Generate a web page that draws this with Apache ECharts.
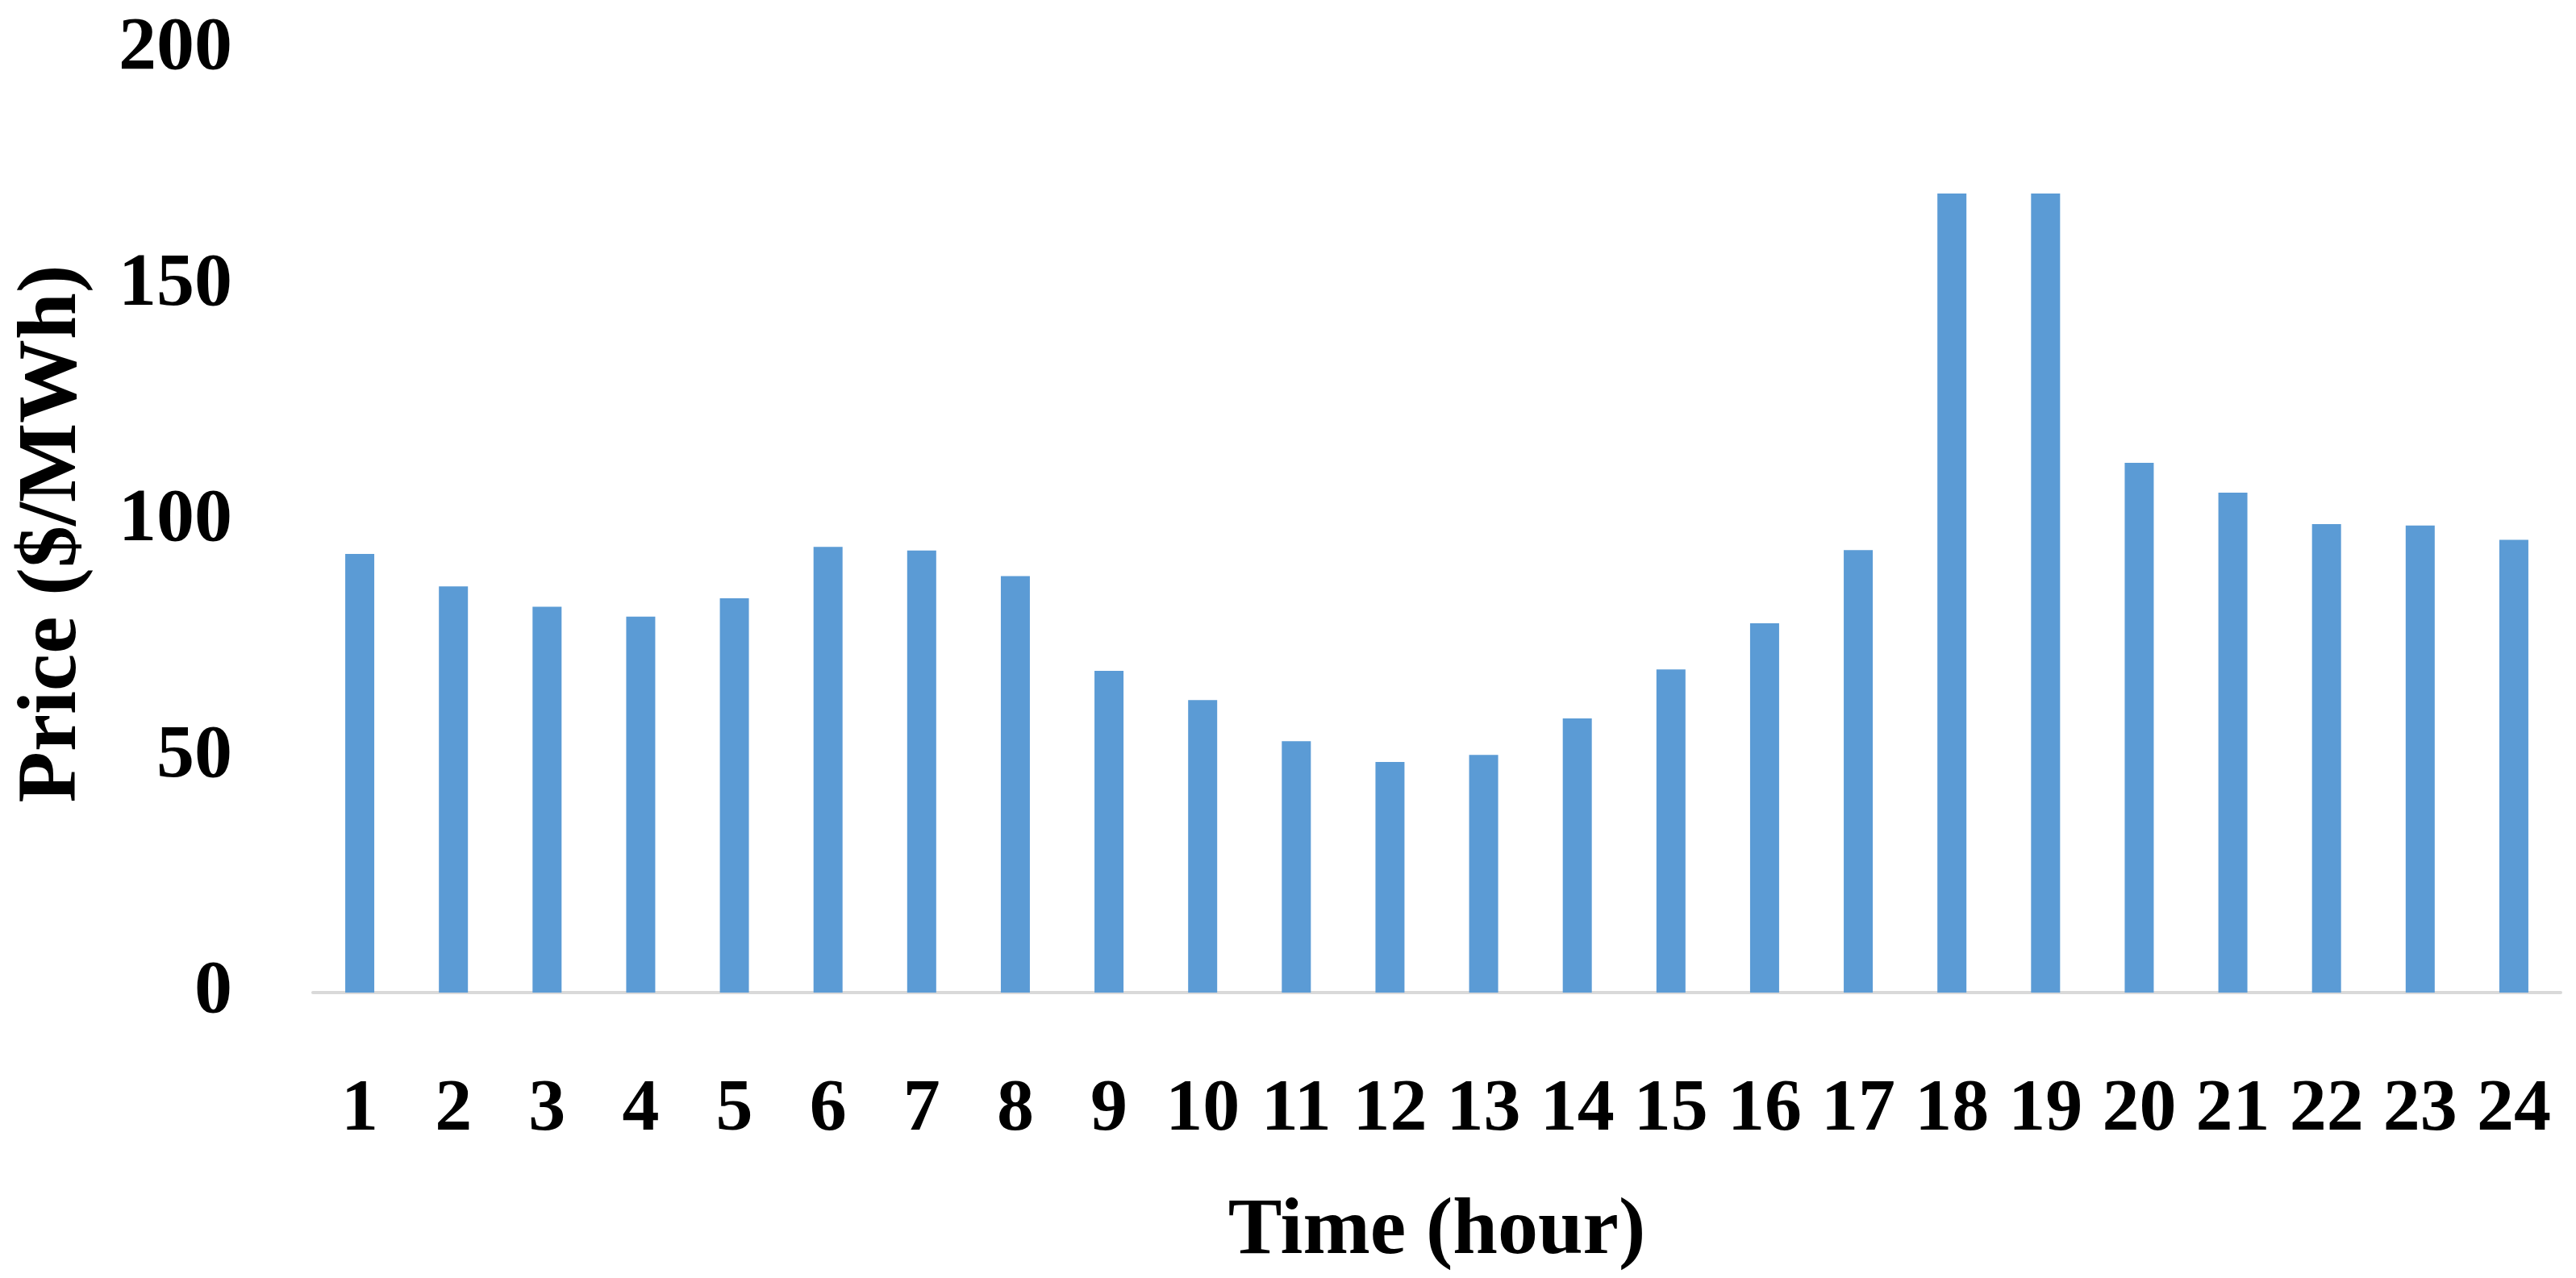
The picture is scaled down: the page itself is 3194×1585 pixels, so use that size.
<!DOCTYPE html>
<html>
<head>
<meta charset="utf-8">
<script src="https://cdn.jsdelivr.net/npm/echarts@6/dist/echarts.min.js"></script>
<style>
  html, body { margin: 0; padding: 0; background: #fff; }
  #chart { width: 3194px; height: 1585px; }
</style>
</head>
<body>
<div id="chart"></div>
<script>
// hours on the x axis
const hours = ['1', '2', '3', '4', '5', '6', '7', '8', '9', '10', '11', '12',
  '13', '14', '15', '16', '17', '18', '19', '20', '21', '22', '23', '24']
// price per hour, $/MWh
const prices = [93.0, 86.1, 81.8, 79.7, 83.6, 94.5, 93.7, 88.3, 68.2, 62.0, 53.3, 48.9,
  50.4, 58.1, 68.5, 78.3, 93.8, 169.4, 169.4, 112.3, 106.0, 99.3, 99.0, 96.0]
const yTicks = [0, 50, 100, 150, 200]

const font = 'Liberation Serif'
const chart = echarts.init(document.getElementById('chart'))

const option = {
  backgroundColor: '#ffffff',
  animation: false,
  grid: {
    left: 388,
    right: 19,
    top: 61,
    bottom: 354,
    containLabel: false,
    outerBoundsMode: 'none'
  },
  xAxis: {
    type: 'category',
    data: hours,
    name: 'Time (hour)',
    nameLocation: 'middle',
    nameGap: 247,
    nameTextStyle: {
      fontFamily: font,
      fontWeight: 'bold',
      fontSize: 100,
      color: '#000'
    },
    axisLine: {
      lineStyle: { color: '#d9d9d9', width: 4 }
    },
    axisTick: { show: false },
    axisLabel: {
      interval: 0,
      margin: 100,
      fontFamily: font,
      fontWeight: 'bold',
      fontSize: 92,
      color: '#000'
    },
    splitLine: { show: false }
  },
  yAxis: {
    type: 'value',
    min: yTicks[0],
    max: yTicks[yTicks.length - 1],
    interval: 50,
    name: 'Price ($/MWh)',
    nameLocation: 'middle',
    nameRotate: 90,
    nameGap: 270,
    nameTextStyle: {
      fontFamily: font,
      fontWeight: 'bold',
      fontSize: 104,
      color: '#000',
      padding: [0, 32, 0, 0]
    },
    axisLine: { show: false },
    axisTick: { show: false },
    axisLabel: {
      margin: 100,
      fontFamily: font,
      fontWeight: 'bold',
      fontSize: 94,
      color: '#000'
    },
    splitLine: { show: false }
  },
  series: [{
    type: 'bar',
    data: prices,
    barWidth: 36,
    itemStyle: { color: '#5b9bd5' }
  }]
}

chart.setOption(option)
</script>
</body>
</html>
